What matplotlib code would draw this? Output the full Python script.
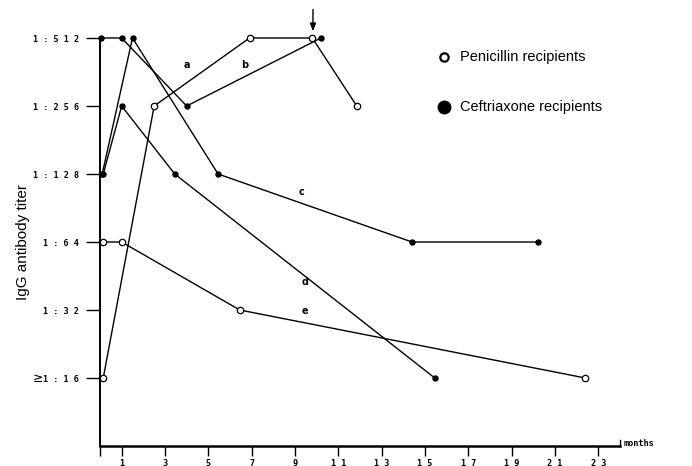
import matplotlib
matplotlib.use("Agg")
import matplotlib.pyplot as plt

plt.rcParams['font.family'] = ['Liberation Sans', 'DejaVu Sans']

# months after treatment / reciprocal IgG titer
a_months = [0.15, 2.5, 6.9, 9.8, 11.85]
a_titer = [16, 256, 512, 512, 256]          # penicillin
b_months = [0.05, 1.0, 4.0, 10.2]
b_titer = [512, 512, 256, 512]              # ceftriaxone
c_months = [0.1, 1.5, 5.45, 14.4, 20.2]
c_titer = [128, 512, 128, 64, 64]           # ceftriaxone
d_months = [0.15, 1.0, 3.45, 15.45]
d_titer = [128, 256, 128, 16]               # ceftriaxone
e_months = [0.15, 1.0, 6.45, 22.4]
e_titer = [64, 64, 32, 16]                  # penicillin

y_ticks = [16, 32, 64, 128, 256, 512]
y_labels = ['1:16', '1:32', '1:64', '1:128', '1:256', '1:512']
x_ticks = [1, 3, 5, 7, 9, 11, 13, 15, 17, 19, 21, 23]


def spaced(s):
    return ' '.join(s)


fig = plt.figure(figsize=(6.92, 4.66), dpi=100)
ax = fig.add_axes([100/692, 1-446/466, 520/692, 408/466])
ax.set_yscale('log', base=2)
ax.set_xlim(0, 24)
ax.set_ylim(8, 512)

mono = dict(family='DejaVu Sans Mono', fontsize=6.1, fontweight='bold')

open_kw = dict(color='black', lw=1.0, marker='o', ms=4.6, mfc='white',
               mec='black', mew=0.9, clip_on=False, zorder=3)
fill_kw = dict(color='black', lw=1.0, marker='o', ms=3.6, mfc='black',
               mec='black', clip_on=False, zorder=4)

ax.plot(b_months, b_titer, **fill_kw)
ax.plot(c_months, c_titer, **fill_kw)
ax.plot(d_months, d_titer, **fill_kw)
ax.plot(a_months, a_titer, **open_kw)
ax.plot(e_months, e_titer, **open_kw)

# curve letters
for lab, xm, lv in [('a', 4.0, 2**8.6), ('b', 6.7, 2**8.6), ('c', 9.3, 2**6.74),
                    ('d', 9.46, 2**5.41), ('e', 9.46, 2**4.99)]:
    ax.text(xm, lv, lab, ha='center', va='center', fontsize=7,
            fontweight='bold', family='DejaVu Sans')

# arrow over month ~10
ax.annotate('', xy=(9.83, 2**9.1), xytext=(9.83, 2**9.42),
            arrowprops=dict(arrowstyle='-|>,head_width=0.18,head_length=0.45',
                            color='black', lw=1.0, shrinkA=0, shrinkB=0),
            annotation_clip=False)

for s in ['top', 'right']:
    ax.spines[s].set_visible(False)
ax.spines['left'].set_linewidth(1.4)
ax.spines['bottom'].set_linewidth(1.8)

ax.set_yticks(y_ticks)
ax.set_yticklabels([spaced(t) for t in y_labels], **mono)
ax.yaxis.set_minor_locator(plt.NullLocator())
ax.tick_params(axis='y', direction='out', length=10, width=1.0, pad=5)
# the "greater or equal" sign before the lowest titer
ax.text(-2.62, 16, '\u2265', ha='right', va='center', fontsize=9,
        family='DejaVu Sans')

ax.set_xticks([0] + x_ticks)
ax.set_xticklabels([''] + [spaced(str(t)) for t in x_ticks], **mono)
ax.tick_params(axis='x', direction='out', length=7, width=1.0, pad=2)
ax.plot([24, 24], [8, 8 * 2**0.09], color='black', lw=1.0, clip_on=False)

ax.text(24.15, 8 * 2**0.04, 'months', ha='left', va='center', **mono)

ax.set_ylabel('IgG antibody titer', fontsize=11)
ax.yaxis.set_label_coords(-0.135, 0.5)

# legend
ax.plot([15.9], [2**8.72], 'o', ms=6, mfc='white', mec='black', mew=1.6,
        clip_on=False)
ax.plot([15.9], [2**7.98], 'o', ms=9, mfc='black', mec='black', clip_on=False)
ax.text(16.6, 2**8.72, 'Penicillin recipients', fontsize=10.5, va='center')
ax.text(16.6, 2**7.98, 'Ceftriaxone recipients', fontsize=10.5, va='center')

fig.savefig('out.png', dpi=100, facecolor='white')
